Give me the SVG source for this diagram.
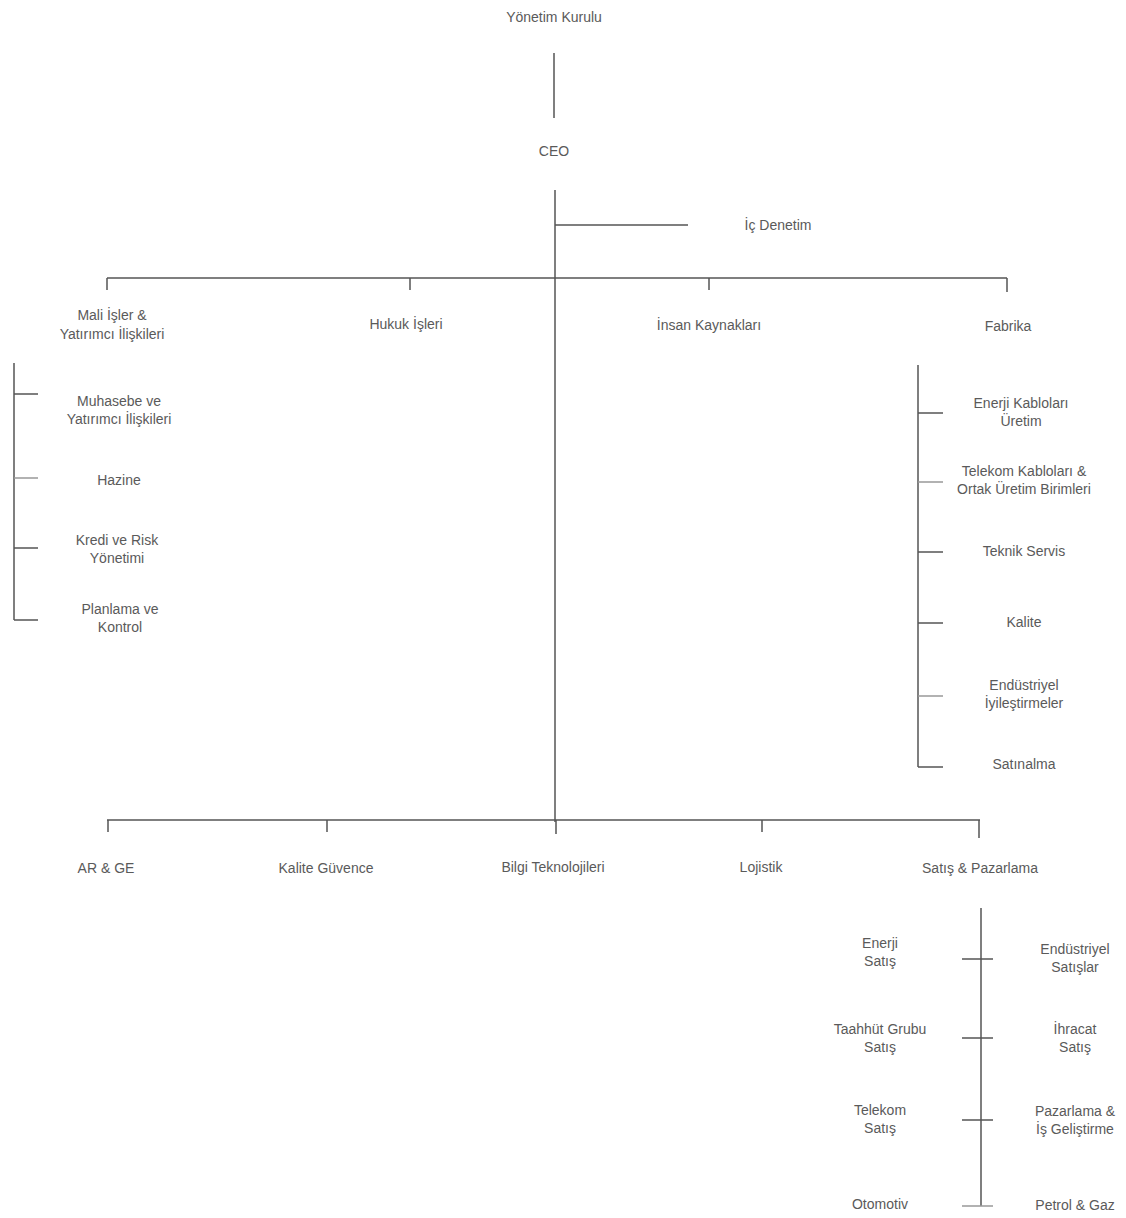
<svg xmlns="http://www.w3.org/2000/svg" width="1126" height="1218" viewBox="0 0 1126 1218">
<style>
text{font-family:"Liberation Sans","DejaVu Sans",sans-serif;font-size:14px;fill:#5a5a5a;text-anchor:middle;dominant-baseline:middle}
.c line{stroke:#555;stroke-width:1.5}
.c .l{stroke:#999}
</style>
<rect width="1126" height="1218" fill="#fff"/>
<g class="c" id="connectors">
<line x1="554" y1="53" x2="554" y2="118"/>
<line x1="555" y1="190" x2="555" y2="822"/>
<line x1="555" y1="225" x2="688" y2="225"/>
<line x1="107" y1="278" x2="1007" y2="278"/>
<line x1="107" y1="278" x2="107" y2="290"/>
<line x1="410" y1="278" x2="410" y2="290"/>
<line x1="709" y1="278" x2="709" y2="290"/>
<line x1="1007" y1="278" x2="1007" y2="292"/>
<line x1="14" y1="363" x2="14" y2="620"/>
<line x1="14" y1="394" x2="38" y2="394"/>
<line class="l" x1="14" y1="478" x2="38" y2="478"/>
<line x1="14" y1="548" x2="38" y2="548"/>
<line x1="14" y1="620" x2="38" y2="620"/>
<line x1="918" y1="365" x2="918" y2="767"/>
<line x1="918" y1="413" x2="943" y2="413"/>
<line class="l" x1="918" y1="482" x2="943" y2="482"/>
<line x1="918" y1="552" x2="943" y2="552"/>
<line x1="918" y1="623" x2="943" y2="623"/>
<line class="l" x1="918" y1="696" x2="943" y2="696"/>
<line x1="918" y1="767" x2="943" y2="767"/>
<line x1="107" y1="820" x2="980" y2="820"/>
<line x1="108" y1="820" x2="108" y2="832"/>
<line x1="327" y1="820" x2="327" y2="832"/>
<line x1="556" y1="820" x2="556" y2="834"/>
<line x1="762" y1="820" x2="762" y2="832"/>
<line x1="979" y1="820" x2="979" y2="838"/>
<line x1="981" y1="908" x2="981" y2="1206"/>
<line x1="962" y1="959" x2="993" y2="959"/>
<line x1="962" y1="1038" x2="993" y2="1038"/>
<line x1="962" y1="1120" x2="993" y2="1120"/>
<line class="l" x1="962" y1="1206" x2="993" y2="1206"/>
</g>
<g id="yonetim"><text x="554" y="18">Yönetim Kurulu</text></g>
<g id="ceo"><text x="554" y="152">CEO</text></g>
<g id="ic-denetim"><text x="778" y="226">İç Denetim</text></g>
<g id="mali"><text x="112" y="316">Mali İşler &amp;</text><text x="112" y="335">Yatırımcı İlişkileri</text></g>
<g id="hukuk"><text x="406" y="325">Hukuk İşleri</text></g>
<g id="ik"><text x="709" y="326">İnsan Kaynakları</text></g>
<g id="fabrika"><text x="1008" y="327">Fabrika</text></g>
<g id="muhasebe"><text x="119" y="402">Muhasebe ve</text><text x="119" y="420">Yatırımcı İlişkileri</text></g>
<g id="hazine"><text x="119" y="481">Hazine</text></g>
<g id="kredi"><text x="117" y="541">Kredi ve Risk</text><text x="117" y="559">Yönetimi</text></g>
<g id="planlama"><text x="120" y="610">Planlama ve</text><text x="120" y="628">Kontrol</text></g>
<g id="enerji-kab"><text x="1021" y="404">Enerji Kabloları</text><text x="1021" y="422">Üretim</text></g>
<g id="telekom-kab"><text x="1024" y="472">Telekom Kabloları &amp;</text><text x="1024" y="490">Ortak Üretim Birimleri</text></g>
<g id="teknik"><text x="1024" y="552">Teknik Servis</text></g>
<g id="kalite"><text x="1024" y="623">Kalite</text></g>
<g id="endustriyel-iy"><text x="1024" y="686">Endüstriyel</text><text x="1024" y="704">İyileştirmeler</text></g>
<g id="satinalma"><text x="1024" y="765">Satınalma</text></g>
<g id="arge"><text x="106" y="869">AR &amp; GE</text></g>
<g id="kalite-guvence"><text x="326" y="869">Kalite Güvence</text></g>
<g id="bilgi"><text x="553" y="868">Bilgi Teknolojileri</text></g>
<g id="lojistik"><text x="761" y="868">Lojistik</text></g>
<g id="satis-pazarlama"><text x="980" y="869">Satış &amp; Pazarlama</text></g>
<g id="enerji-satis"><text x="880" y="944">Enerji</text><text x="880" y="962">Satış</text></g>
<g id="taahhut"><text x="880" y="1030">Taahhüt Grubu</text><text x="880" y="1048">Satış</text></g>
<g id="telekom-satis"><text x="880" y="1111">Telekom</text><text x="880" y="1129">Satış</text></g>
<g id="otomotiv"><text x="880" y="1205">Otomotiv</text></g>
<g id="endustriyel-satis"><text x="1075" y="950">Endüstriyel</text><text x="1075" y="968">Satışlar</text></g>
<g id="ihracat"><text x="1075" y="1030">İhracat</text><text x="1075" y="1048">Satış</text></g>
<g id="pazarlama"><text x="1075" y="1112">Pazarlama &amp;</text><text x="1075" y="1130">İş Geliştirme</text></g>
<g id="petrol"><text x="1075" y="1206">Petrol &amp; Gaz</text></g>
</svg>
